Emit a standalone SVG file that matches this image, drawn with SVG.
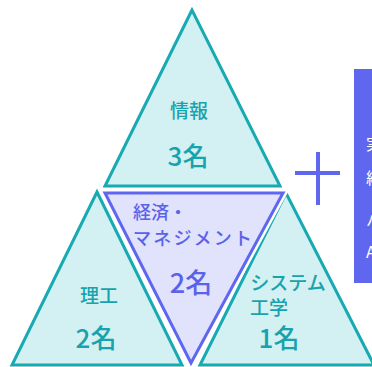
<svg xmlns="http://www.w3.org/2000/svg" width="372" height="367" viewBox="0 0 372 367">
<style>
.tri{fill:#d3f0f2;stroke:#17aab2;stroke-width:3;stroke-linejoin:miter}
.mid{fill:#e1e2fb;stroke:#5f67ef;stroke-width:3}
.halo{fill:none;stroke:#ffffff;stroke-width:8}
.t{font-family:"Noto Sans CJK JP","Noto Sans",sans-serif;fill:#17a3ad;text-anchor:middle;font-weight:500}
.p{font-family:"Noto Sans CJK JP","Noto Sans",sans-serif;fill:#5a62ea;font-weight:500}
.w{font-family:"Noto Sans CJK JP","Noto Sans",sans-serif;fill:#ffffff;font-size:16px}
</style>
<rect width="372" height="367" fill="#ffffff"/>
<g id="node-joho">
<polygon class="tri" points="192,10 105,186 280,186"/>
<text class="t" x="189" y="118" font-size="19">情報</text>
<text class="t" x="188" y="166" font-size="26">3名</text>
</g>
<g id="node-riko">
<polygon class="tri" points="97,192 12,365 182,365"/>
<text class="t" x="99" y="303" font-size="19">理工</text>
<text class="t" x="96" y="348" font-size="26">2名</text>
</g>
<g id="node-system">
<polygon class="tri" points="286,193 200,365 374,365"/>
<text class="t" x="288" y="290" font-size="19">システム</text>
<text class="t" x="269" y="315" font-size="19">工学</text>
<text class="t" x="279" y="348" font-size="26">1名</text>
</g>
<g id="node-keizai">
<polygon class="halo" points="105,193 283,193 191,363"/>
<polygon class="mid" points="105,193 283,193 191,363"/>
<text class="p" x="133" y="219" font-size="18">経済・</text>
<text class="p" x="133" y="245" font-size="18" textLength="119">マネジメント</text>
<text class="p" x="191" y="293" font-size="27" text-anchor="middle">2名</text>
</g>
<g id="connectors">
<line x1="318" y1="152" x2="318" y2="205" stroke="#5f67ef" stroke-width="4"/>
<line x1="295" y1="173" x2="340" y2="173" stroke="#5f67ef" stroke-width="4"/>
</g>
<g id="node-box">
<rect x="354" y="69" width="30" height="214" fill="#5f67ef"/>
<text class="w" x="366" y="150">実</text>
<text class="w" x="366" y="184">経</text>
<text class="w" x="366" y="226">ハ</text>
<text class="w" x="366" y="258">A</text>
</g>
</svg>
